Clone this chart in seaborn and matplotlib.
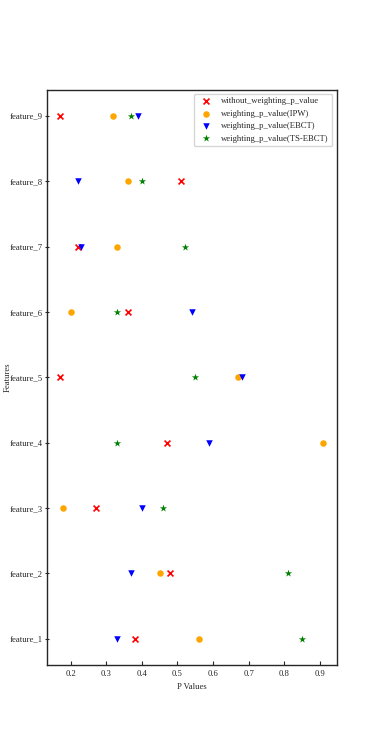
import matplotlib

matplotlib.use("Agg")

import matplotlib.pyplot as plt  # noqa: E402
import pandas as pd  # noqa: E402
import seaborn as sns  # noqa: E402

# features listed top to bottom as they appear on the y axis
features = [f"feature_{i}" for i in range(9, 0, -1)]

without_weighting = [0.17, 0.51, 0.22, 0.36, 0.17, 0.47, 0.27, 0.48, 0.38]
weighting_ipw = [0.32, 0.36, 0.33, 0.20, 0.67, 0.91, 0.18, 0.45, 0.56]
weighting_ebct = [0.39, 0.22, 0.23, 0.54, 0.68, 0.59, 0.40, 0.37, 0.33]
weighting_ts_ebct = [0.37, 0.40, 0.52, 0.33, 0.55, 0.33, 0.46, 0.81, 0.85]

series = [
    ("without_weighting_p_value", without_weighting, "red", "x"),
    ("weighting_p_value(IPW)", weighting_ipw, "orange", "o"),
    ("weighting_p_value(EBCT)", weighting_ebct, "blue", "v"),
    ("weighting_p_value(TS-EBCT)", weighting_ts_ebct, "green", "*"),
]

# original was drawn at 6x12 in, shown here at ~62 dpi
k = 0.623
fs = 10 * k

sns.set_style("ticks")
plt.rcParams["font.family"] = ["Liberation Serif", "DejaVu Serif"]
plt.rcParams.update({
    "font.size": fs,
    "axes.linewidth": 1.0,
    "xtick.major.size": 3.0,
    "ytick.major.size": 3.0,
    "xtick.major.width": 0.8,
    "ytick.major.width": 0.8,
})

fig, ax = plt.subplots(figsize=(3.74, 7.47), dpi=100)

for name, vals, color, marker in series:
    df = pd.DataFrame({"P Values": vals, "Features": features})
    kw = {"linewidth": 1.2} if marker == "x" else {"linewidth": 0}
    size = {"x": 18, "o": 22, "v": 22, "*": 30}[marker]
    sns.scatterplot(data=df, x="P Values", y="Features", color=color,
                    marker=marker, s=size, label=name, ax=ax, **kw)

ax.margins(x=0.05)
ax.set_ylim(len(features) - 1 + 0.4, -0.4)
ax.tick_params(axis="x", direction="in", labelsize=fs)
ax.tick_params(axis="y", direction="inout", labelsize=fs, pad=1.5)
ax.set_xlabel("P Values", fontsize=fs)
ax.set_ylabel("Features", fontsize=fs)
ax.yaxis.set_label_coords(-0.122, 0.5)
ax.legend(loc="upper right", fontsize=fs, frameon=True)

fig.subplots_adjust(left=0.125, right=0.9, bottom=0.11, top=0.88)
fig.savefig("out.png", dpi=100)
